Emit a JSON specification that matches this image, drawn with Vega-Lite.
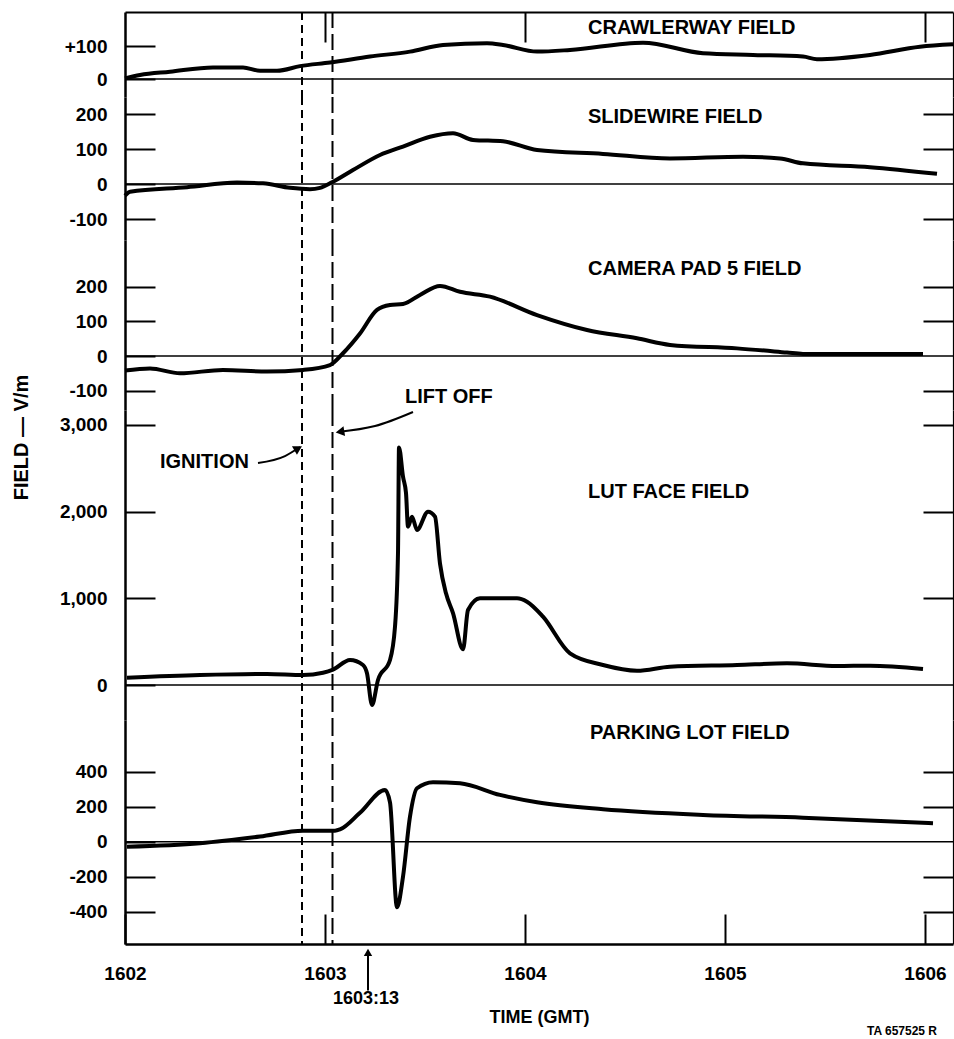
{
  "$schema": "https://vega.github.io/schema/vega-lite/v6.json",
  "background": "white",
  "padding": {"left": 10, "top": 11, "right": 0, "bottom": 0},
  "spacing": 0,
  "bounds": "flush",
  "config": {
    "view": {"stroke": null},
    "font": "Liberation Sans",
    "text": {"font": "Liberation Sans", "fontSize": 20, "fontWeight": "bold", "color": "black"},
    "axis": {"domainColor": "black", "tickColor": "black", "labelColor": "black", "titleColor": "black", "labelFont": "Liberation Sans", "titleFont": "Liberation Sans", "grid": false, "labelFontWeight": "bold", "titleFontWeight": "bold", "labelOverlap": false, "labelBound": false, "labelFlush": false}
  },
  "datasets": {
    "one": [{}],
    "crawler": [
      {"t": 1602.0, "v": 2}, {"t": 1602.075, "v": 12}, {"t": 1602.225, "v": 22}, {"t": 1602.44, "v": 35}, {"t": 1602.59, "v": 35}, {"t": 1602.675, "v": 25}, {"t": 1602.76, "v": 25}, {"t": 1602.875, "v": 39}, {"t": 1603.025, "v": 50}, {"t": 1603.225, "v": 68}, {"t": 1603.425, "v": 83}, {"t": 1603.59, "v": 103}, {"t": 1603.81, "v": 108}, {"t": 1603.89, "v": 103}, {"t": 1604.06, "v": 83}, {"t": 1604.225, "v": 88}, {"t": 1604.59, "v": 110}, {"t": 1604.89, "v": 78}, {"t": 1605.14, "v": 73}, {"t": 1605.39, "v": 68}, {"t": 1605.46, "v": 60}, {"t": 1605.725, "v": 73}, {"t": 1605.975, "v": 98}, {"t": 1606.14, "v": 105}
    ],
    "slide": [
      {"t": 1602.0, "v": -33}, {"t": 1602.025, "v": -22}, {"t": 1602.31, "v": -9}, {"t": 1602.56, "v": 4}, {"t": 1602.69, "v": 2}, {"t": 1602.825, "v": -11}, {"t": 1602.925, "v": -15}, {"t": 1602.975, "v": -11}, {"t": 1603.035, "v": 5}, {"t": 1603.14, "v": 40}, {"t": 1603.275, "v": 83}, {"t": 1603.39, "v": 107}, {"t": 1603.525, "v": 135}, {"t": 1603.64, "v": 145}, {"t": 1603.74, "v": 126}, {"t": 1603.89, "v": 122}, {"t": 1604.06, "v": 97}, {"t": 1604.39, "v": 86}, {"t": 1604.725, "v": 73}, {"t": 1605.09, "v": 78}, {"t": 1605.275, "v": 73}, {"t": 1605.39, "v": 59}, {"t": 1605.725, "v": 48}, {"t": 1606.06, "v": 29}
    ],
    "camera": [
      {"t": 1602.0, "v": -42}, {"t": 1602.125, "v": -36}, {"t": 1602.275, "v": -50}, {"t": 1602.49, "v": -40}, {"t": 1602.71, "v": -45}, {"t": 1602.89, "v": -40}, {"t": 1603.025, "v": -26}, {"t": 1603.09, "v": 8}, {"t": 1603.175, "v": 65}, {"t": 1603.26, "v": 133}, {"t": 1603.325, "v": 147}, {"t": 1603.39, "v": 150}, {"t": 1603.475, "v": 176}, {"t": 1603.575, "v": 202}, {"t": 1603.675, "v": 185}, {"t": 1603.825, "v": 171}, {"t": 1604.06, "v": 118}, {"t": 1604.31, "v": 75}, {"t": 1604.56, "v": 51}, {"t": 1604.725, "v": 32}, {"t": 1605.06, "v": 22}, {"t": 1605.31, "v": 10}, {"t": 1605.39, "v": 6}, {"t": 1605.99, "v": 6}
    ],
    "lut": [
      {"t": 1602.01, "v": 85}, {"t": 1602.375, "v": 115}, {"t": 1602.71, "v": 127}, {"t": 1602.89, "v": 115}, {"t": 1602.99, "v": 142}, {"t": 1603.04, "v": 178}, {"t": 1603.125, "v": 288}, {"t": 1603.19, "v": 231}, {"t": 1603.21, "v": 135}, {"t": 1603.235, "v": -230}, {"t": 1603.265, "v": 58}, {"t": 1603.325, "v": 288}, {"t": 1603.35, "v": 673}, {"t": 1603.365, "v": 1522}, {"t": 1603.37, "v": 2740}, {"t": 1603.39, "v": 2403}, {"t": 1603.405, "v": 2214}, {"t": 1603.415, "v": 1826}, {"t": 1603.435, "v": 1941}, {"t": 1603.46, "v": 1788}, {"t": 1603.515, "v": 1999}, {"t": 1603.55, "v": 1941}, {"t": 1603.575, "v": 1400}, {"t": 1603.605, "v": 1057}, {"t": 1603.64, "v": 830}, {"t": 1603.69, "v": 411}, {"t": 1603.715, "v": 865}, {"t": 1603.775, "v": 1000}, {"t": 1603.96, "v": 1000}, {"t": 1604.01, "v": 961}, {"t": 1604.09, "v": 788}, {"t": 1604.225, "v": 365}, {"t": 1604.39, "v": 231}, {"t": 1604.56, "v": 165}, {"t": 1604.725, "v": 211}, {"t": 1605.06, "v": 231}, {"t": 1605.31, "v": 250}, {"t": 1605.56, "v": 219}, {"t": 1605.725, "v": 223}, {"t": 1605.99, "v": 185}
    ],
    "parking": [
      {"t": 1602.01, "v": -29}, {"t": 1602.375, "v": -9}, {"t": 1602.675, "v": 29}, {"t": 1602.89, "v": 63}, {"t": 1603.05, "v": 63}, {"t": 1603.075, "v": 70}, {"t": 1603.175, "v": 165}, {"t": 1603.3, "v": 295}, {"t": 1603.325, "v": 225}, {"t": 1603.36, "v": -375}, {"t": 1603.39, "v": -200}, {"t": 1603.425, "v": 143}, {"t": 1603.46, "v": 305}, {"t": 1603.54, "v": 340}, {"t": 1603.675, "v": 334}, {"t": 1603.875, "v": 267}, {"t": 1604.06, "v": 225}, {"t": 1604.39, "v": 185}, {"t": 1604.89, "v": 153}, {"t": 1605.39, "v": 137}, {"t": 1606.04, "v": 105}
    ],
    "ignArrow": [{"t": 1602.665, "v": 2561}, {"t": 1602.8, "v": 2641}, {"t": 1602.875, "v": 2745}],
    "liftArrow": [{"t": 1603.44, "v": 3149}, {"t": 1603.25, "v": 2987}, {"t": 1603.065, "v": 2918}]
  },
  "vconcat": [
    {
      "width": 828, "height": 85,
      "resolve": {"axis": {"x": "independent", "y": "independent"}},
      "layer": [
        {"data": {"name": "crawler"}, "mark": {"type": "line", "color": "black", "strokeWidth": 4, "interpolate": "monotone"},
         "encoding": {
           "x": {"field": "t", "type": "quantitative", "scale": {"domain": [1602, 1606.14], "nice": false, "zero": false},
                 "axis": {"orient": "top", "values": [1603, 1604, 1606], "tickSize": -30, "tickWidth": 2, "labels": false, "domainWidth": 2, "title": null}},
           "y": {"field": "v", "type": "quantitative", "scale": {"domain": [-54.5, 203], "nice": false, "zero": false},
                 "axis": {"orient": "left", "values": [0, 100], "tickSize": -30, "tickWidth": 2, "domainWidth": 2.5, "labelFontSize": 19, "labelPadding": 48, "title": null, "format": "d", "labelExpr": "datum.value > 0 ? '+' + datum.label : datum.label"}}
         }},
        {"data": {"name": "one"}, "mark": {"type": "rule", "color": "black", "strokeWidth": 1.5},
         "encoding": {"y": {"datum": 0, "type": "quantitative", "axis": {"orient": "right", "values": [], "ticks": false, "labels": false, "domainWidth": 1.2, "title": null}}}},
        {"data": {"name": "one"}, "mark": {"type": "rule", "color": "black", "strokeWidth": 2, "strokeDash": [8, 5]}, "encoding": {"x": {"datum": 1602.885, "type": "quantitative", "axis": null}}},
        {"data": {"name": "one"}, "mark": {"type": "rule", "color": "black", "strokeWidth": 2, "strokeDash": [16, 6]}, "encoding": {"x": {"datum": 1603.0375, "type": "quantitative", "axis": null}}},
        {"data": {"name": "one"}, "mark": {"type": "text", "text": "CRAWLERWAY  FIELD", "align": "left", "baseline": "middle"},
         "encoding": {"x": {"datum": 1604.315, "type": "quantitative", "axis": null}, "y": {"datum": 154.5, "type": "quantitative", "axis": null}}}
      ]
    },
    {
      "width": 828, "height": 143,
      "resolve": {"axis": {"x": "independent", "y": "independent"}},
      "layer": [
        {"data": {"name": "slide"}, "mark": {"type": "line", "color": "black", "strokeWidth": 4, "interpolate": "monotone"},
         "encoding": {
           "x": {"field": "t", "type": "quantitative", "scale": {"domain": [1602, 1606.14], "nice": false, "zero": false}, "axis": null},
           "y": {"field": "v", "type": "quantitative", "scale": {"domain": [-160, 248.6], "nice": false, "zero": false},
                 "axis": {"orient": "left", "values": [-100, 0, 100, 200], "tickSize": -30, "tickWidth": 2, "domainWidth": 2.5, "labelFontSize": 19, "labelPadding": 48, "title": null, "format": "d", "labelExpr": "replace(datum.label, '\u2212', '-')"}}
         }},
        {"data": {"name": "one"}, "mark": {"type": "rule", "color": "black", "strokeWidth": 1.5},
         "encoding": {"y": {"datum": 0, "type": "quantitative", "axis": {"orient": "right", "values": [-100, 100, 200], "tickSize": -30, "tickWidth": 2, "labels": false, "domainWidth": 1.2, "title": null}}}},
        {"data": {"name": "one"}, "mark": {"type": "rule", "color": "black", "strokeWidth": 2, "strokeDash": [8, 5]}, "encoding": {"x": {"datum": 1602.885, "type": "quantitative", "axis": null}}},
        {"data": {"name": "one"}, "mark": {"type": "rule", "color": "black", "strokeWidth": 2, "strokeDash": [16, 6]}, "encoding": {"x": {"datum": 1603.0375, "type": "quantitative", "axis": null}}},
        {"data": {"name": "one"}, "mark": {"type": "text", "text": "SLIDEWIRE  FIELD", "align": "left", "baseline": "middle"},
         "encoding": {"x": {"datum": 1604.315, "type": "quantitative", "axis": null}, "y": {"datum": 191.5, "type": "quantitative", "axis": null}}}
      ]
    },
    {
      "width": 828, "height": 170,
      "resolve": {"axis": {"x": "independent", "y": "independent"}},
      "layer": [
        {"data": {"name": "camera"}, "mark": {"type": "line", "color": "black", "strokeWidth": 4, "interpolate": "monotone"},
         "encoding": {
           "x": {"field": "t", "type": "quantitative", "scale": {"domain": [1602, 1606.14], "nice": false, "zero": false}, "axis": null},
           "y": {"field": "v", "type": "quantitative", "scale": {"domain": [-155.6, 334.3], "nice": false, "zero": false},
                 "axis": {"orient": "left", "values": [-100, 0, 100, 200], "tickSize": -30, "tickWidth": 2, "domainWidth": 2.5, "labelFontSize": 19, "labelPadding": 48, "title": null, "format": "d", "labelExpr": "replace(datum.label, '\u2212', '-')"}}
         }},
        {"data": {"name": "one"}, "mark": {"type": "rule", "color": "black", "strokeWidth": 1.5},
         "encoding": {"y": {"datum": 0, "type": "quantitative", "axis": {"orient": "right", "values": [-100, 100, 200], "tickSize": -30, "tickWidth": 2, "labels": false, "domainWidth": 1.2, "title": null}}}},
        {"data": {"name": "one"}, "mark": {"type": "rule", "color": "black", "strokeWidth": 2, "strokeDash": [8, 5]}, "encoding": {"x": {"datum": 1602.885, "type": "quantitative", "axis": null}}},
        {"data": {"name": "one"}, "mark": {"type": "rule", "color": "black", "strokeWidth": 2, "strokeDash": [16, 6]}, "encoding": {"x": {"datum": 1603.0375, "type": "quantitative", "axis": null}}},
        {"data": {"name": "one"}, "mark": {"type": "text", "text": "CAMERA  PAD  5  FIELD", "align": "left", "baseline": "middle"},
         "encoding": {"x": {"datum": 1604.315, "type": "quantitative", "axis": null}, "y": {"datum": 250.7, "type": "quantitative", "axis": null}}},
        {"data": {"name": "one"}, "mark": {"type": "text", "text": "LIFT  OFF", "align": "left", "baseline": "middle"},
         "encoding": {"x": {"datum": 1603.4, "type": "quantitative", "axis": null}, "y": {"datum": -118, "type": "quantitative", "axis": null}}}
      ]
    },
    {
      "width": 828, "height": 310,
      "resolve": {"axis": {"x": "independent", "y": "independent"}},
      "layer": [
        {"data": {"name": "lut"}, "mark": {"type": "line", "color": "black", "strokeWidth": 4, "interpolate": "monotone"},
         "encoding": {
           "x": {"field": "t", "type": "quantitative", "scale": {"domain": [1602, 1606.14], "nice": false, "zero": false}, "axis": null},
           "y": {"field": "v", "type": "quantitative", "scale": {"domain": [-403.7, 3172], "nice": false, "zero": false},
                 "axis": {"orient": "left", "values": [0, 1000, 2000, 3000], "tickSize": -30, "tickWidth": 2, "domainWidth": 2.5, "labelFontSize": 19, "labelPadding": 48, "format": ",d",
                          "title": "FIELD  —     V/m", "titleFontSize": 20, "titleX": -94, "titleY": 27, "titleAngle": -90, "titleAlign": "center", "titleBaseline": "bottom"}}
         }},
        {"data": {"name": "one"}, "mark": {"type": "rule", "color": "black", "strokeWidth": 1.5},
         "encoding": {"y": {"datum": 0, "type": "quantitative", "axis": {"orient": "right", "values": [1000, 2000, 3000], "tickSize": -30, "tickWidth": 2, "labels": false, "domainWidth": 1.2, "title": null}}}},
        {"data": {"name": "one"}, "mark": {"type": "rule", "color": "black", "strokeWidth": 2, "strokeDash": [8, 5]}, "encoding": {"x": {"datum": 1602.885, "type": "quantitative", "axis": null}}},
        {"data": {"name": "one"}, "mark": {"type": "rule", "color": "black", "strokeWidth": 2, "strokeDash": [16, 6]}, "encoding": {"x": {"datum": 1603.0375, "type": "quantitative", "axis": null}}},
        {"data": {"name": "one"}, "mark": {"type": "text", "text": "LUT  FACE  FIELD", "align": "left", "baseline": "middle"},
         "encoding": {"x": {"datum": 1604.315, "type": "quantitative", "axis": null}, "y": {"datum": 2226, "type": "quantitative", "axis": null}}},
        {"data": {"name": "one"}, "mark": {"type": "text", "text": "IGNITION", "align": "left", "baseline": "middle"},
         "encoding": {"x": {"datum": 1602.175, "type": "quantitative", "axis": null}, "y": {"datum": 2572, "type": "quantitative", "axis": null}}},
        {"data": {"name": "ignArrow"}, "mark": {"type": "line", "color": "black", "strokeWidth": 2, "interpolate": "monotone"},
         "encoding": {"x": {"field": "t", "type": "quantitative", "axis": null}, "y": {"field": "v", "type": "quantitative", "axis": null}}},
        {"data": {"name": "one"}, "mark": {"type": "point", "shape": "triangle-right", "filled": true, "size": 100, "angle": -30, "color": "black", "opacity": 1},
         "encoding": {"x": {"datum": 1602.866, "type": "quantitative", "axis": null}, "y": {"datum": 2730, "type": "quantitative", "axis": null}}},
        {"data": {"name": "liftArrow"}, "mark": {"type": "line", "color": "black", "strokeWidth": 2, "interpolate": "monotone"},
         "encoding": {"x": {"field": "t", "type": "quantitative", "axis": null}, "y": {"field": "v", "type": "quantitative", "axis": null}}},
        {"data": {"name": "one"}, "mark": {"type": "point", "shape": "triangle-left", "filled": true, "size": 100, "angle": -9, "color": "black", "opacity": 1},
         "encoding": {"x": {"datum": 1603.075, "type": "quantitative", "axis": null}, "y": {"datum": 2920, "type": "quantitative", "axis": null}}}
      ]
    },
    {
      "width": 828, "height": 224,
      "resolve": {"axis": {"x": "independent", "y": "independent"}},
      "layer": [
        {"data": {"name": "parking"}, "mark": {"type": "line", "color": "black", "strokeWidth": 4, "interpolate": "monotone"},
         "encoding": {
           "x": {"field": "t", "type": "quantitative", "scale": {"domain": [1602, 1606.14], "nice": false, "zero": false},
                 "axis": {"orient": "bottom", "values": [1602, 1603, 1604, 1605, 1606], "format": "d", "tickSize": -30, "tickWidth": 2, "domainWidth": 2.5, "labelFontSize": 19, "labelPadding": 50, "title": "TIME  (GMT)", "titleFontSize": 18, "titlePadding": 25}},
           "y": {"field": "v", "type": "quantitative", "scale": {"domain": [-584.6, 695], "nice": false, "zero": false},
                 "axis": {"orient": "left", "values": [-400, -200, 0, 200, 400], "tickSize": -30, "tickWidth": 2, "domainWidth": 2.5, "labelFontSize": 19, "labelPadding": 48, "title": null, "format": "d", "labelExpr": "replace(datum.label, '\u2212', '-')"}}
         }},
        {"data": {"name": "one"}, "mark": {"type": "rule", "color": "black", "strokeWidth": 1.5},
         "encoding": {"y": {"datum": 0, "type": "quantitative", "axis": {"orient": "right", "values": [-400, -200, 200, 400], "tickSize": -30, "tickWidth": 2, "labels": false, "domainWidth": 1.2, "title": null}}}},
        {"data": {"name": "one"}, "mark": {"type": "rule", "color": "black", "strokeWidth": 2, "strokeDash": [8, 5]}, "encoding": {"x": {"datum": 1602.885, "type": "quantitative", "axis": null}}},
        {"data": {"name": "one"}, "mark": {"type": "rule", "color": "black", "strokeWidth": 2, "strokeDash": [16, 6]}, "encoding": {"x": {"datum": 1603.0375, "type": "quantitative", "axis": null}}},
        {"data": {"name": "one"}, "mark": {"type": "text", "text": "PARKING  LOT  FIELD", "align": "left", "baseline": "middle"},
         "encoding": {"x": {"datum": 1604.325, "type": "quantitative", "axis": null}, "y": {"datum": 620.7, "type": "quantitative", "axis": null}}},
        {"data": {"name": "one"}, "mark": {"type": "rule", "color": "black", "strokeWidth": 2},
         "encoding": {"x": {"datum": 1603.215, "type": "quantitative", "axis": null}, "y": {"datum": -850, "type": "quantitative", "axis": null}, "y2": {"datum": -640}}},
        {"data": {"name": "one"}, "mark": {"type": "point", "shape": "triangle-up", "filled": true, "size": 70, "color": "black", "opacity": 1},
         "encoding": {"x": {"datum": 1603.215, "type": "quantitative", "axis": null}, "y": {"datum": -632, "type": "quantitative", "axis": null}}},
        {"data": {"name": "one"}, "mark": {"type": "text", "text": "1603:13", "align": "center", "baseline": "middle", "fontSize": 18},
         "encoding": {"x": {"datum": 1603.205, "type": "quantitative", "axis": null}, "y": {"datum": -896, "type": "quantitative", "axis": null}}},
        {"data": {"name": "one"}, "mark": {"type": "text", "text": "TA 657525 R", "align": "left", "baseline": "middle", "fontSize": 12, "fontWeight": "bold"},
         "encoding": {"x": {"datum": 1605.71, "type": "quantitative", "axis": null}, "y": {"datum": -1082, "type": "quantitative", "axis": null}}}
      ]
    }
  ]
}
